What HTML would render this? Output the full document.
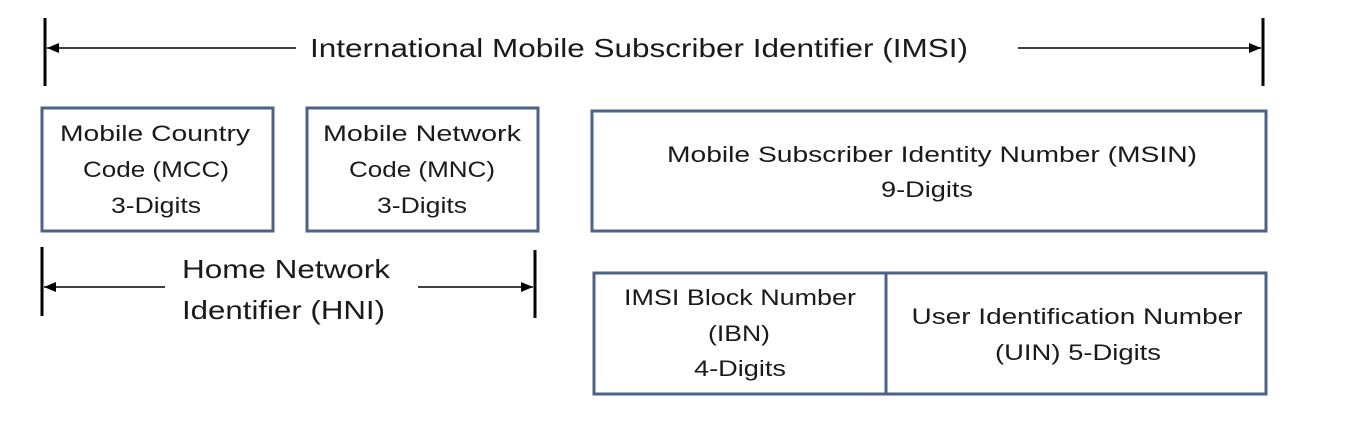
<!DOCTYPE html>
<html><head><meta charset="utf-8"><style>
html,body{margin:0;padding:0;background:#fff;}
svg{display:block;}
text{font-family:"Liberation Sans",sans-serif;fill:#1a1a1a;}
</style></head><body>
<svg width="1352" height="438" viewBox="0 0 1352 438" xmlns="http://www.w3.org/2000/svg">
<defs>
<marker id="ah" markerWidth="12" markerHeight="10" refX="12" refY="5" orient="auto" markerUnits="userSpaceOnUse">
<path d="M0,0 L12,5 L0,10 Z" fill="#000"/>
</marker>
</defs>
<line x1="45" y1="18" x2="45" y2="86" stroke="#000" stroke-width="3"/>
<line x1="1263" y1="18" x2="1263" y2="86" stroke="#000" stroke-width="3"/>
<line x1="296" y1="48" x2="47" y2="48" stroke="#000" stroke-width="1.5" marker-end="url(#ah)"/>
<line x1="1018" y1="48" x2="1261" y2="48" stroke="#000" stroke-width="1.5" marker-end="url(#ah)"/>
<text x="310" y="57" font-size="26" textLength="658" lengthAdjust="spacingAndGlyphs">International Mobile Subscriber Identifier (IMSI)</text>

<g fill="none" stroke="#4d6289" stroke-width="3">
<rect x="42" y="108" width="231" height="123"/>
<rect x="307" y="108" width="231" height="123"/>
<rect x="592" y="111" width="674" height="120"/>
<rect x="594" y="273" width="672" height="121"/>
<line x1="886" y1="273" x2="886" y2="394"/>
</g>

<g font-size="22" text-anchor="middle">
<text x="155" y="141" textLength="190" lengthAdjust="spacingAndGlyphs">Mobile Country</text>
<text x="156" y="177" textLength="146" lengthAdjust="spacingAndGlyphs">Code (MCC)</text>
<text x="156" y="213" textLength="90" lengthAdjust="spacingAndGlyphs">3-Digits</text>
<text x="422" y="141" textLength="198" lengthAdjust="spacingAndGlyphs">Mobile Network</text>
<text x="422" y="177" textLength="146" lengthAdjust="spacingAndGlyphs">Code (MNC)</text>
<text x="422" y="213" textLength="90" lengthAdjust="spacingAndGlyphs">3-Digits</text>
<text x="932" y="162" textLength="530" lengthAdjust="spacingAndGlyphs">Mobile Subscriber Identity Number (MSIN)</text>
<text x="927" y="197" textLength="92" lengthAdjust="spacingAndGlyphs">9-Digits</text>
<text x="740" y="305" textLength="232" lengthAdjust="spacingAndGlyphs">IMSI Block Number</text>
<text x="739" y="341" textLength="62" lengthAdjust="spacingAndGlyphs">(IBN)</text>
<text x="740" y="376" textLength="92" lengthAdjust="spacingAndGlyphs">4-Digits</text>
<text x="1077" y="324" textLength="331" lengthAdjust="spacingAndGlyphs">User Identification Number</text>
<text x="1078" y="360" textLength="166" lengthAdjust="spacingAndGlyphs">(UIN) 5-Digits</text>
</g>

<line x1="42" y1="247" x2="42" y2="316" stroke="#000" stroke-width="3"/>
<line x1="535" y1="250" x2="535" y2="318" stroke="#000" stroke-width="3"/>
<line x1="165" y1="287" x2="44" y2="287" stroke="#000" stroke-width="1.5" marker-end="url(#ah)"/>
<line x1="418" y1="287" x2="533" y2="287" stroke="#000" stroke-width="1.5" marker-end="url(#ah)"/>
<text x="182" y="278" font-size="26" textLength="208" lengthAdjust="spacingAndGlyphs">Home Network</text>
<text x="182" y="319" font-size="26" textLength="203" lengthAdjust="spacingAndGlyphs">Identifier (HNI)</text>
</svg>
</body></html>
